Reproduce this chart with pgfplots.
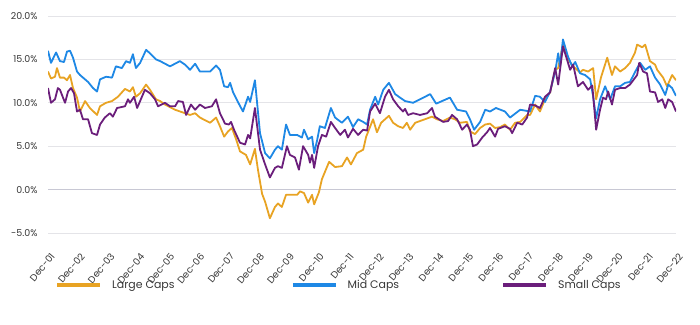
\documentclass[border=0pt]{standalone}
\usepackage{fontspec}
\setmainfont{Poppins}
\usepackage{pgfplots}
\pgfplotsset{compat=1.18}
\definecolor{lc}{RGB}{232,163,35}
\definecolor{mc}{RGB}{30,136,229}
\definecolor{sc}{RGB}{107,30,123}
\definecolor{gridc}{RGB}{228,228,232}
\definecolor{zeroc}{RGB}{200,200,212}
\definecolor{txt}{RGB}{55,55,55}
\begin{document}
\begin{tikzpicture}
\begin{axis}[name=ax, width=628bp, height=217bp, scale only axis,
 xmin=0, xmax=21, ymin=-5, ymax=20,
 xtick={0,...,21},
 xticklabels={Dec-01,Dec-02,Dec-03,Dec-04,Dec-05,Dec-06,Dec-07,Dec-08,Dec-09,Dec-10,Dec-11,Dec-12,Dec-13,Dec-14,Dec-15,Dec-16,Dec-17,Dec-18,Dec-19,Dec-20,Dec-21,Dec-22},
 ytick={-5,0,5,10,15,20},
 yticklabel={\pgfmathprintnumber[fixed,fixed zerofill,precision=1]{\tick}\%},
 /pgf/number format/assume math mode=true,
 ymajorgrids, grid style={color=gridc, line width=0.8bp},
 extra y ticks={0}, extra y tick labels={}, extra y tick style={grid style={color=zeroc, line width=1bp}},
 axis line style={draw=none}, major tick length=0pt,
 tick label style={text=txt},
 yticklabel style={font=\fontsize{9.5}{11}\selectfont, xshift=-7bp},
 xticklabel style={font=\fontsize{9.6}{11}\selectfont, xshift=7bp, yshift=-19bp, rotate=50, anchor=east},
 legend style={at={(0.012,-0.24)}, anchor=west, draw=none, fill=none, legend columns=3, inner sep=0pt,
   font=\fontsize{11}{12}\selectfont, text=txt},
 legend image code/.code={\draw[#1,line width=3.5bp] (0bp,0bp) -- (43bp,0bp);},
 every axis plot/.append style={line width=1.8bp, line join=round},
]
\addplot[lc] coordinates {
(0,13.6) (0.10,12.8) (0.234,13.0) (0.30,14.0) (0.40,12.9) (0.535,12.9) (0.635,12.6) (0.736,13.2) (0.836,11.7) (0.97,10.6) (1.07,9.0) (1.24,10.2) (1.40,9.4) (1.64,8.6) (1.74,9.6) (1.94,10.0) (2.14,10.2) (2.34,10.7) (2.575,11.6) (2.74,11.3) (2.84,11.8) (2.94,10.7) (3.08,11.1) (3.28,12.1) (3.41,11.5) (3.61,10.4) (3.75,10.2) (3.91,9.8) (4.25,9.2) (4.58,8.8) (4.75,8.6) (4.92,8.8) (5.08,8.3) (5.42,7.7) (5.62,8.3) (5.75,7.3) (5.89,6.1) (6.02,6.7) (6.15,7.1) (6.29,5.8) (6.42,4.4) (6.62,4.0) (6.76,2.9) (6.92,4.7) (7.02,2.3) (7.16,-0.5) (7.26,-1.4) (7.42,-3.3) (7.59,-2.0) (7.69,-1.6) (7.82,-2.0) (7.96,-0.6) (8.09,-0.6) (8.33,-0.6) (8.43,-0.2) (8.56,-0.4) (8.70,-1.5) (8.83,-0.6) (8.90,-1.7) (9.06,-0.3) (9.16,1.2) (9.40,3.2) (9.60,2.6) (9.83,2.7) (10.0,3.7) (10.13,2.9) (10.33,4.2) (10.54,4.6) (10.64,6.1) (10.87,8.1) (11.0,6.6) (11.14,7.7) (11.40,8.5) (11.54,7.7) (11.71,7.3) (11.87,7.1) (12.0,7.7) (12.11,6.9) (12.28,7.7) (12.44,7.9) (12.84,8.4) (13.01,8.1) (13.21,7.9) (13.44,8.3) (13.61,8.1) (13.78,7.7) (14.01,7.8) (14.11,6.7) (14.28,6.4) (14.45,7.1) (14.62,7.5) (14.78,7.6) (14.95,7.1) (15.12,7.2) (15.28,7.5) (15.45,6.9) (15.62,7.7) (15.79,7.8) (16.02,8.6) (16.12,8.6) (16.29,9.8) (16.45,9.0) (16.62,10.4) (16.79,11.2) (16.96,13.8) (17.06,14.0) (17.22,16.7) (17.39,15.0) (17.56,14.2) (17.79,13.5) (17.89,13.8) (18.06,13.6) (18.23,14.0) (18.33,10.4) (18.49,12.9) (18.59,14.0) (18.70,15.2) (18.86,13.2) (18.96,14.2) (19.13,13.6) (19.30,14.0) (19.46,14.6) (19.63,15.8) (19.70,16.7) (19.87,16.4) (19.97,16.7) (20.13,14.8) (20.30,14.4) (20.37,13.8) (20.57,12.9) (20.70,11.9) (20.87,13.2) (21.0,12.6)
};
\addlegendentry{\hspace*{8bp}\makebox[177bp][l]{Large Caps}}
\addplot[mc] coordinates {
(0,16.0) (0.10,14.6) (0.27,15.8) (0.40,14.8) (0.535,14.7) (0.635,15.9) (0.736,16.0) (0.836,15.2) (0.97,13.6) (1.07,13.2) (1.34,12.4) (1.505,11.7) (1.64,11.3) (1.74,12.7) (1.94,13.0) (2.14,12.9) (2.27,14.2) (2.47,14.0) (2.61,14.8) (2.74,14.6) (2.84,15.6) (2.94,14.0) (3.08,14.6) (3.28,16.1) (3.41,15.7) (3.61,15.0) (3.75,14.8) (4.08,14.2) (4.41,14.8) (4.58,14.4) (4.75,13.8) (4.92,14.5) (5.08,13.6) (5.42,13.6) (5.62,14.3) (5.75,13.8) (5.89,11.9) (6.02,11.8) (6.09,12.3) (6.19,11.2) (6.35,10.1) (6.52,9.0) (6.69,10.7) (6.76,10.1) (6.92,12.6) (7.02,9.0) (7.09,6.5) (7.26,4.2) (7.42,3.6) (7.59,4.6) (7.69,5.0) (7.82,4.6) (7.96,7.5) (8.09,6.3) (8.33,6.3) (8.49,6.0) (8.56,6.9) (8.70,5.8) (8.83,6.1) (8.90,4.2) (9.00,5.7) (9.09,7.3) (9.26,7.1) (9.46,9.4) (9.60,8.3) (9.83,7.7) (10.03,8.4) (10.20,7.2) (10.37,8.1) (10.54,7.8) (10.67,7.5) (10.77,9.2) (10.94,10.7) (11.04,9.8) (11.21,11.5) (11.40,12.3) (11.61,11.0) (11.77,10.6) (11.94,10.2) (12.21,10.0) (12.44,10.4) (12.78,11.0) (12.98,9.9) (13.44,10.6) (13.68,9.2) (13.98,9.0) (14.11,8.1) (14.25,6.9) (14.45,7.8) (14.62,9.2) (14.78,9.0) (14.98,9.4) (15.28,9.0) (15.45,8.3) (15.79,9.2) (16.12,9.0) (16.29,10.8) (16.45,10.7) (16.62,10.1) (16.79,11.3) (16.96,13.6) (17.06,15.7) (17.12,14.2) (17.22,17.3) (17.39,15.3) (17.53,14.2) (17.63,14.7) (17.79,13.4) (17.96,13.2) (18.13,12.7) (18.23,10.7) (18.33,8.2) (18.46,10.4) (18.63,11.9) (18.80,10.4) (18.96,11.9) (19.13,11.9) (19.30,12.3) (19.46,12.4) (19.67,13.8) (19.80,14.6) (19.97,13.8) (20.13,14.2) (20.30,12.9) (20.47,12.1) (20.64,10.9) (20.74,12.1) (20.87,11.7) (21.0,10.8)
};
\addlegendentry{\hspace*{8bp}\makebox[152bp][l]{Mid Caps}}
\addplot[sc] coordinates {
(0,11.7) (0.10,10.0) (0.234,10.4) (0.33,11.7) (0.40,11.5) (0.57,10.0) (0.67,11.3) (0.77,11.7) (0.87,11.1) (0.97,9.0) (1.07,9.2) (1.17,8.1) (1.34,8.1) (1.47,6.5) (1.64,6.3) (1.74,7.5) (1.90,8.3) (2.07,8.8) (2.17,8.4) (2.31,9.4) (2.575,9.6) (2.675,10.4) (2.74,10.0) (2.88,10.7) (2.98,9.4) (3.08,10.2) (3.24,11.5) (3.41,11.1) (3.58,10.4) (3.68,9.6) (3.91,10.0) (4.08,9.6) (4.25,9.6) (4.35,10.2) (4.51,10.1) (4.62,8.6) (4.78,9.8) (4.92,9.2) (5.08,9.8) (5.25,9.4) (5.48,9.6) (5.62,10.4) (5.75,8.8) (5.92,7.6) (6.05,7.5) (6.12,7.8) (6.22,6.9) (6.42,5.4) (6.59,5.2) (6.69,6.3) (6.76,5.9) (6.92,9.4) (7.09,4.6) (7.26,2.9) (7.42,1.4) (7.59,2.5) (7.69,2.7) (7.82,2.5) (7.99,5.0) (8.09,4.0) (8.26,3.7) (8.39,2.3) (8.53,5.0) (8.70,4.0) (8.76,3.1) (8.83,4.0) (8.90,2.5) (9.03,5.0) (9.16,6.3) (9.30,6.1) (9.46,7.8) (9.60,7.1) (9.77,6.3) (9.93,6.9) (10.03,6.0) (10.20,7.0) (10.37,6.3) (10.54,6.9) (10.67,6.8) (10.77,9.0) (10.94,9.9) (11.10,8.8) (11.27,10.7) (11.40,11.5) (11.54,10.4) (11.71,9.6) (11.87,9.0) (11.94,9.3) (12.04,8.6) (12.21,8.8) (12.44,8.6) (12.68,8.8) (12.84,9.4) (12.94,8.4) (13.21,7.8) (13.38,7.9) (13.51,8.6) (13.68,8.1) (13.85,6.9) (14.01,7.5) (14.11,6.9) (14.21,5.0) (14.35,5.2) (14.52,6.0) (14.68,6.6) (14.78,7.1) (14.95,6.1) (15.05,7.0) (15.28,7.3) (15.45,7.0) (15.52,6.5) (15.69,7.7) (15.86,7.5) (16.02,8.3) (16.12,9.8) (16.29,9.7) (16.45,9.4) (16.62,10.7) (16.79,11.2) (16.96,14.0) (17.06,12.1) (17.22,16.5) (17.46,13.8) (17.56,14.4) (17.72,11.9) (17.89,12.4) (18.06,11.5) (18.20,12.0) (18.33,6.9) (18.46,9.2) (18.56,10.6) (18.66,10.4) (18.73,11.3) (18.86,9.8) (18.96,11.5) (19.13,11.7) (19.30,11.7) (19.46,12.1) (19.70,13.2) (19.77,14.6) (19.90,13.6) (20.03,13.4) (20.13,11.3) (20.30,11.2) (20.40,10.1) (20.54,10.4) (20.64,9.4) (20.74,10.4) (20.87,10.1) (21.0,9.0)
};
\addlegendentry{\hspace*{8bp}Small Caps}
\end{axis}
\pgfresetboundingbox
\path ([xshift=-48bp,yshift=-92bp]ax.south west) rectangle ([xshift=24bp,yshift=16bp]ax.north east);
\end{tikzpicture}
\end{document}
